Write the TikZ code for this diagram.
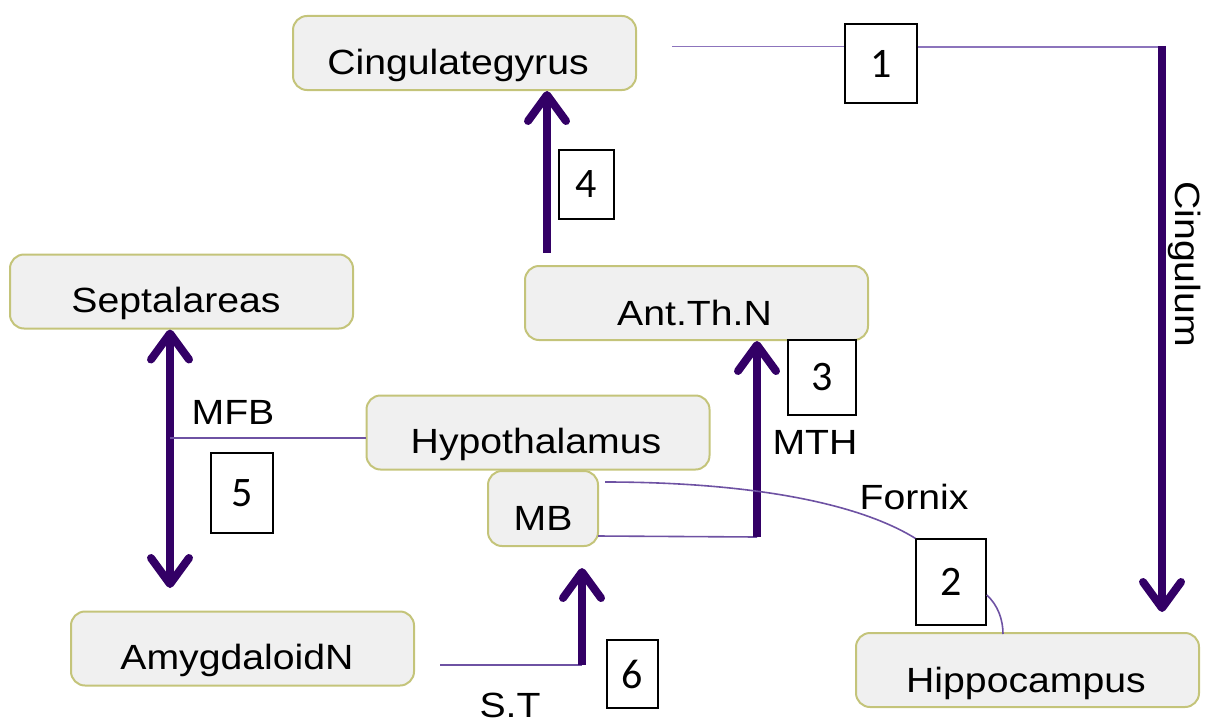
\documentclass[tikz,border=0pt]{standalone}
\usepackage{fontspec}
\setmainfont{Liberation Sans}
\newfontfamily\labfont[FakeStretch=1.12]{Liberation Sans}
\newfontfamily\numfont{Carlito}
\usetikzlibrary{arrows.meta}
\definecolor{boxfill}{HTML}{F0F0F0}
\definecolor{boxline}{HTML}{C4C47A}
\definecolor{thickc}{HTML}{330066}
\definecolor{thinc}{HTML}{6E52A3}
\definecolor{thinlight}{HTML}{8C74BC}
\begin{document}
\begin{tikzpicture}[x=1pt,y=-1pt,
  region/.style={draw=boxline, line width=2pt, fill=boxfill, rounded corners=14pt, minimum width=343pt, minimum height=74pt, inner sep=0pt},
  txt/.style={font=\labfont\fontsize{35}{40}\selectfont, text height=25pt, text depth=0pt, inner sep=0pt},
  numbox/.style 2 args={draw=black, line width=1.3pt, fill=white, inner sep=0pt, minimum width=#1pt, minimum height=#2pt, font=\numfont\fontsize{42}{48}\selectfont},
  barb/.tip={Straight Barb[length=26pt,width=38pt,round]},
  fiber/.style={draw=thickc, line width=8pt, -barb},
  fiberboth/.style={draw=thickc, line width=8pt, barb-barb},
  thinline/.style={draw=thinc, line width=1.6pt},
]
\useasboundingbox (0,0) rectangle (1214,725);
% regions
\node[region] (cg) at (464.5,53) {};
\node[txt] (cgt) at (458,62) {Cingulategyrus};
\node[region] (ath) at (696.5,303) {};
\node[txt] (atht) at (694.5,312.5) {Ant.Th.N};
\node[region] (sep) at (181.5,291.5) {};
\node[txt] (sept) at (176,300) {Septalareas};
\node[region] (hyp) at (538,432.5) {};
\node[txt] (hypt) at (536,441) {Hypothalamus};
\node[region, minimum width=110pt, minimum height=75pt] (mb) at (543,508.5) {};
\node[txt] (mbt) at (543,518) {MB};
\node[region] (amy) at (242.5,648.5) {};
\node[txt] (amyt) at (237,657) {AmygdaloidN};
\node[region] (hip) at (1027.5,670) {};
\node[txt] (hipt) at (1026,680) {Hippocampus};
% number boxes
\node[numbox={72}{79}] (n1) at (881,63.5) {1};
\node[numbox={55}{69}] (n4) at (586.5,184.5) {4};
\node[numbox={68}{75}] (n3) at (822,377.5) {3};
\node[numbox={62}{80}] (n5) at (242,493) {5};
\node[numbox={70}{86}] (n2) at (951,582) {2};
\node[numbox={51}{68}] (n6) at (632.5,674) {6};
% labels
\node[txt] (mfbl) at (233,412) {MFB};
\node[txt] (mthl) at (815,442) {MTH};
\node[txt] (fxl) at (914,497) {Fornix};
\node[txt] (stl) at (510,705) {S.T};
\node[txt, rotate=-90] (cgl) at (1188,264) {Cingulum};
% coordinates
\coordinate (c1) at (672,46.5);
\coordinate (cgc) at (1162,47);
\coordinate (cge) at (1162,612);
\coordinate (a4s) at (547,253);
\coordinate (mbl) at (598,536);
\coordinate (mbc) at (757,537);
\coordinate (a5e) at (170,588);
\coordinate (mfb) at (170,438);
\coordinate (fx) at (605,482);
\coordinate (hipf) at (1003,634);
\coordinate (sts) at (440,665);
\coordinate (stc) at (582,665);
\coordinate (a6e) at (582,568);
% connectors
\draw[thinline, draw=thinlight] (c1) -- (n1.west |- c1);
\draw[thinline, draw=thinlight] (n1.east |- cgc) -- (cgc);
\draw[fiber, shorten <=-1pt] (cgc) -- (cge);
\draw[fiber] (a4s) -- (a4s |- cg.south);
\draw[thinline] (mbl) -- (mbc);
\draw[fiber] (mbc) -- (mbc |- ath.south);
\draw[fiberboth] (sep.south -| a5e) -- (a5e);
\draw[thinline] (mfb) -- (hyp.west |- mfb);
\draw[thinline] (fx) .. controls (730,482) and (850,498) .. (n2.north west);
\draw[thinline] ([yshift=-13pt]n2.east) .. controls (998,605) and (1003,620) .. (hipf);
\draw[thinline] (sts) -- (stc);
\draw[fiber] (stc) -- (a6e);
\end{tikzpicture}
\end{document}
